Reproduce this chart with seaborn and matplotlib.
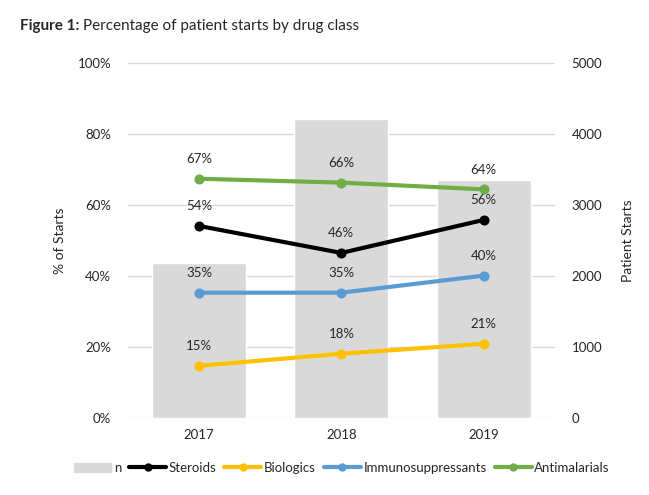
import pandas as pd
import seaborn as sns
import matplotlib.pyplot as plt
from matplotlib.lines import Line2D
from matplotlib.patches import Patch

years = ['2017', '2018', '2019']
n_starts = [2185, 4215, 3355]
steroids = [54.1, 46.5, 55.8]
biologics = [14.7, 18.1, 20.9]
immuno = [35.3, 35.3, 40.1]
antimalarials = [67.4, 66.3, 64.4]

series_names = ['Steroids', 'Biologics', 'Immunosuppressants', 'Antimalarials']
series_vals = [steroids, biologics, immuno, antimalarials]
colors = ['#000000', '#FFC000', '#5B9BD5', '#70AD47']

sns.set_style('white')
plt.rcParams['font.family'] = ['Lato', 'DejaVu Sans']

rows = []
for name, vals in zip(series_names, series_vals):
    for y, v in zip(years, vals):
        rows.append({'year': y, 'pct': v, 'class': name})
df = pd.DataFrame(rows)
df_n = pd.DataFrame({'year': years, 'n': n_starts})

fig = plt.figure(figsize=(6.49, 4.95), dpi=100)
ax = fig.add_axes([0.197, 0.1556, 0.658, 0.7171])
ax2 = ax.twinx()

# bars on the right axis, behind everything
sns.barplot(data=df_n, x='year', y='n', color='#D9D9D9', width=0.66,
            saturation=1, ax=ax2, zorder=2)
ax2.set_ylim(0, 5000)
ax2.set_yticks(range(0, 5001, 1000))
ax2.yaxis.grid(True, color='#D9D9D9', linewidth=1, zorder=0)
ax2.set_axisbelow(True)
ax2.set_ylabel('Patient Starts', fontsize=10, labelpad=14)

# lines on the left axis
ax.set_zorder(ax2.get_zorder() + 1)
ax.patch.set_visible(False)
sns.pointplot(data=df, x='year', y='pct', hue='class', hue_order=series_names,
              palette=colors, markers='o', markersize=5, linewidth=3,
              ax=ax, legend=False)
for name, vals in zip(series_names, series_vals):
    for i, v in enumerate(vals):
        ax.annotate(f'{round(v):d}%', (i, v), xytext=(0, 14),
                    textcoords='offset points', ha='center', va='center',
                    fontsize=9.5)
ax.set_ylim(0, 100)
ax.set_yticks(range(0, 101, 20))
ax.set_yticklabels([f'{t}%' for t in range(0, 101, 20)])
ax.set_ylabel('% of Starts', fontsize=10, labelpad=8)
ax.set_xlabel('')
ax2.set_xlabel('')
ax.set_xlim(-0.5, 2.5)

for a in (ax, ax2):
    for s in a.spines.values():
        s.set_visible(False)
    a.tick_params(length=0, labelsize=9.5, pad=12)
ax.tick_params(axis='x', pad=8)

t1 = fig.text(0.031, 0.948, 'Figure 1:', fontsize=11, fontweight='bold', va='center')
fig.canvas.draw()
bb = t1.get_window_extent().transformed(fig.transFigure.inverted())
fig.text(bb.x1 + 0.006, 0.948, 'Percentage of patient starts by drug class',
         fontsize=11, va='center')

handles = [Patch(color='#D9D9D9')]
for c in colors:
    handles.append(Line2D([0], [0], color=c, linewidth=3, marker='o', markersize=5))
fig.legend(handles, ['n'] + series_names, loc='center', bbox_to_anchor=(0.527, 0.055),
           ncol=5, frameon=False, fontsize=9.5, handlelength=2.8,
           handletextpad=0.2, columnspacing=0.6)

fig.savefig('out.png', dpi=100)
